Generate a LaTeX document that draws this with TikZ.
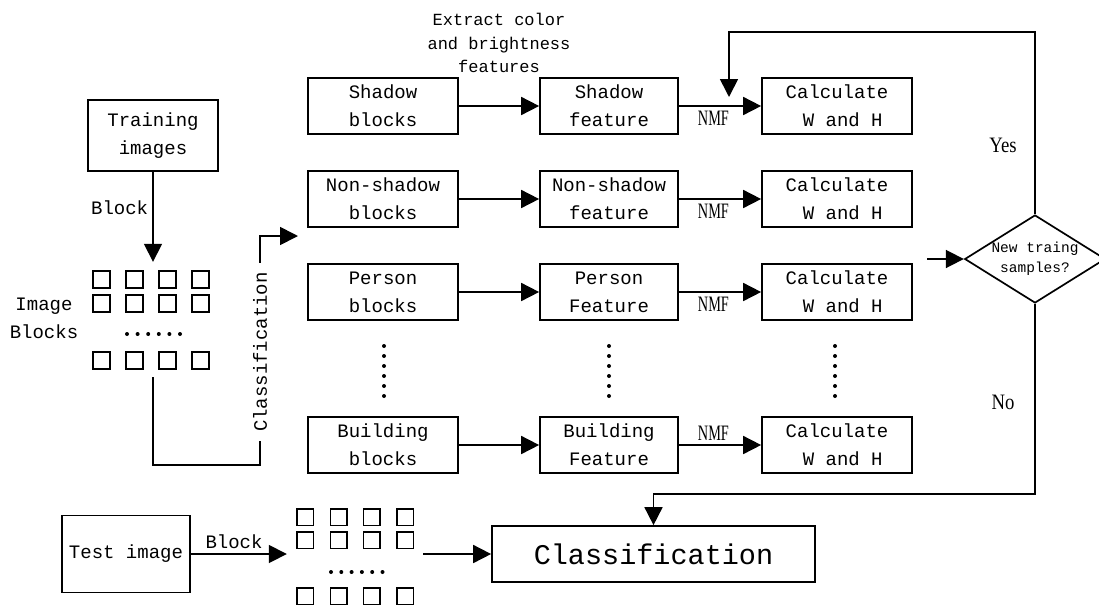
\documentclass[tikz,border=0pt]{standalone}
\usepackage{fontspec}
\setmainfont{Liberation Mono}
\newfontfamily\nmffont[FakeStretch=0.65]{Liberation Serif}
\newfontfamily\answerfont[FakeStretch=0.85]{Liberation Serif}
\usetikzlibrary{arrows.meta,shapes.geometric}

\begin{document}
\begin{tikzpicture}[
	x=1pt, y=-1pt,
	every node/.style={
		align=center,
		font=\fontsize{19}{28}\selectfont
	},
	stage/.style={
		rectangle,
		draw=black,
		line width=1.7pt,
		align=center,
		inner sep=0pt,
		minimum height=56pt,
		minimum width=150pt
	},
	feature/.style={
		stage,
		minimum width=138pt
	},
	decision/.style={
		diamond,
		draw=black,
		line width=1.7pt,
		align=center,
		inner sep=0pt,
		aspect=1.6,
		minimum height=88pt,
		minimum width=140pt,
		font=\fontsize{14.5}{20}\selectfont
	},
	blockgrid/.style={
		rectangle,
		inner sep=0pt
	},
	nmf/.style={
		font=\nmffont\fontsize{22}{22}\selectfont,
		inner sep=4pt
	},
	answer/.style={
		font=\answerfont\fontsize{22}{22}\selectfont
	},
	arr/.style={-{Triangle[length=18pt,width=18pt]}, line width=1.7pt},
	wire/.style={line width=1.7pt},
	tile/.style={line width=1.5pt},
]

\useasboundingbox (0,0) rectangle (1099,608);

%% Training side %%
\node[stage, minimum width=130pt, minimum height=71pt] (train) at (153,135.5) {Training\\images};
\node[blockgrid, minimum width=117pt, minimum height=115pt] (imgblk) at (151.5,319.5) {};
\node (imglabel) at (44,318) {Image\\Blocks};

% tiles %
\foreach \c in {0,...,3}
	\foreach \r in {271,295,352}
		\draw[tile] (93+33*\c,\r) rectangle ++(17,17);
\foreach \d in {0,...,5}
	\fill (127+10.6*\d,334) circle (2pt);

\draw[arr] (train) -- node[left, pos=0.4, inner sep=4pt] {Block} (train |- imgblk.north);

% classification of the blocks %
\node[rotate=90, inner sep=9pt] (clslabel) at (260,352) {Classification};
\coordinate (dispatch) at (298,236);
\draw[wire] (imgblk.south -| train) -- ++(0,88) -| (clslabel.west);
\draw[arr] (clslabel.east) |- (dispatch);

%% Block rows %%
\node (extract) at (499,43) [font=\fontsize{17}{23.5}\selectfont] {Extract color\\and brightness\\features};

% shadow %
\node[stage] (sblk) at (383,106) {Shadow\\blocks};
\node[feature] (sfeat) at (609,106) {Shadow\\feature};
\node[stage] (scalc) at (837,106) {Calculate\\~W and H};

% non-shadow %
\node[stage] (nblk) at (383,199) {Non-shadow\\blocks};
\node[feature] (nfeat) at (609,199) {Non-shadow\\feature};
\node[stage] (ncalc) at (837,199) {Calculate\\~W and H};

% person %
\node[stage] (pblk) at (383,292) {Person\\blocks};
\node[feature] (pfeat) at (609,292) {Person\\Feature};
\node[stage] (pcalc) at (837,292) {Calculate\\~W and H};

% building %
\node[stage] (bblk) at (383,445) {Building\\blocks};
\node[feature] (bfeat) at (609,445) {Building\\Feature};
\node[stage] (bcalc) at (837,445) {Calculate\\~W and H};

% vertical dots %
\foreach \x in {384,609,835}
	\foreach \d in {0,...,5}
		\fill (\x,346+10*\d) circle (2pt);

\draw[arr] (sblk) -- (sfeat);
\draw[arr] (nblk) -- (nfeat);
\draw[arr] (pblk) -- (pfeat);
\draw[arr] (bblk) -- (bfeat);

\draw[arr] (sfeat) -- node[nmf, below, pos=0.42] {NMF} (scalc);
\draw[arr] (nfeat) -- node[nmf, below, pos=0.42] {NMF} (ncalc);
\draw[arr] (pfeat) -- node[nmf, below, pos=0.42] {NMF} (pcalc);
\draw[arr] (bfeat) -- node[nmf, above, pos=0.42] {NMF} (bcalc);

%% Decision %%
\node[decision] (decide) at (1035,259) {New traing\\samples?};
\coordinate (gather) at (927,259);
\coordinate (fbin) at (729,97);
\draw[arr] (gather) -- (decide);
\draw[arr] (decide.north) -- ++(0,-182) -| (fbin);
\node[answer] (yes) at (1003,145) {Yes};
\node[answer] (no) at (1003,402) {No};

%% Test side %%
\node[stage, minimum width=128pt, minimum height=77pt] (testimg) at (126,554) {Test image};
\node[blockgrid, minimum width=136pt, minimum height=95pt] (tgrid) at (355,556.5) {};
\foreach \c in {0,...,3}
	\foreach \r in {509,532,588}
		\draw[tile] (297+33.3*\c,\r) rectangle ++(16.5,16.5);
\foreach \d in {0,...,5}
	\fill (331+10.3*\d,572) circle (2pt);

\node[stage, minimum width=323pt, font=\fontsize{28.5}{30}\selectfont] (cls) at (653.5,554) {Classification};

\draw[arr] (testimg) -- node[above, pos=0.45, inner sep=4pt] {Block} (testimg -| tgrid.west);
\draw[arr] (tgrid.east |- cls) -- (cls);
\draw[arr] (decide.south) -- ++(0,190) -| (cls.north);

\end{tikzpicture}
\end{document}
